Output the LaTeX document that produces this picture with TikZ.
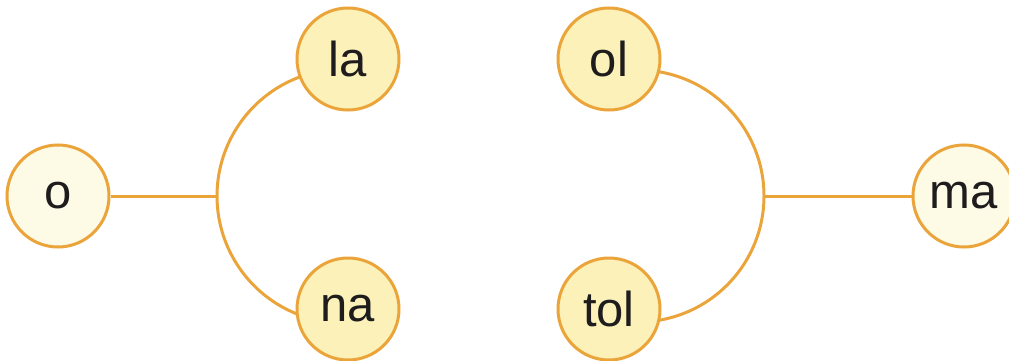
\documentclass[tikz,border=0pt]{standalone}
\usepackage{fontspec}
\setmainfont{Liberation Sans}
\definecolor{edge}{HTML}{EAA43A}
\definecolor{fillY}{HTML}{FBF1B9}
\definecolor{fillC}{HTML}{FDFAE6}
\definecolor{ink}{HTML}{1E1C1C}
\begin{document}
\begin{tikzpicture}[x=1pt,y=-1pt,
  wnode/.style={circle,draw=edge,line width=3pt,minimum size=102pt,inner sep=0pt,
    text=ink,font=\fontsize{49}{49}\selectfont},
  ynode/.style={wnode,fill=fillY},
  cnode/.style={wnode,fill=fillC},
  link/.style={draw=edge,line width=3pt}]
\useasboundingbox (0,0) rectangle (1009,361);
\coordinate (j1) at (217,196);
\coordinate (j2) at (764,196);
% arcs drawn first so that the node fills cover their ends
\path[link] (j1) arc[start angle=180,end angle=105,radius=127];
\path[link] (j1) arc[start angle=180,end angle=255,radius=127];
\path[link] (j2) arc[start angle=0,end angle=85,radius=126];
\path[link] (j2) arc[start angle=0,end angle=-85,radius=126];
\node[cnode] (o) at (58,196) {o};
\node[ynode] (la) at (348,59) {la};
\node[ynode] (na) at (348,309) {na};
\node[ynode] (ol) at (609,59) {ol};
\node[ynode] (tol) at (609,309) {tol};
\node[cnode] (ma) at (964,196) {ma};
\draw[link] (o) -- (j1);
\draw[link] (j2) -- (ma);
\end{tikzpicture}
\end{document}
